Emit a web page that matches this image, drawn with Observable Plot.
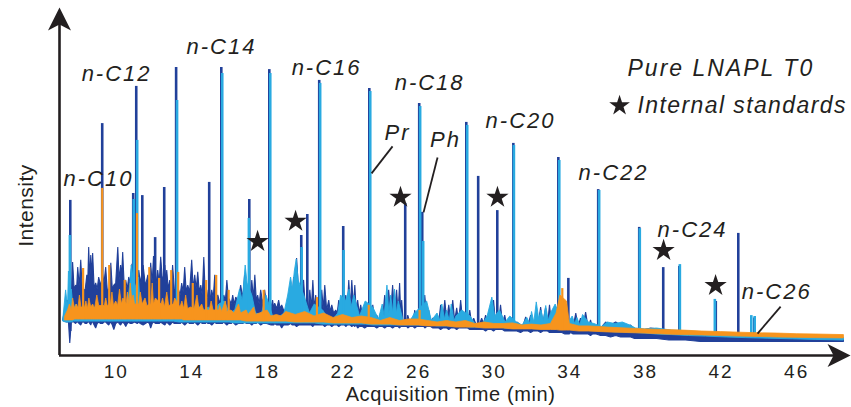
<!DOCTYPE html>
<html><head><meta charset="utf-8">
<script src="https://cdn.jsdelivr.net/npm/d3@7"></script>
<script src="https://cdn.jsdelivr.net/npm/@observablehq/plot@0.6"></script>
<style>
html,body{margin:0;padding:0;background:#fff;}
#chart svg{display:block;}
</style></head><body><div id="chart"></div>
<script>
// ---- data (time in min, intensity in arbitrary units) ----
const xTicks = [10, 14, 18, 22, 26, 30, 34, 38, 42, 46];

// noise bands: [time, low, high]
const darkBand = [
 [7.20,11.5,12.0],[7.40,11.0,18.3],[7.50,11.0,18.0],[7.57,4.0,22.0],[7.65,11.0,20.0],[7.72,11.0,31.0],
 [7.80,11.0,22.0],[7.88,10.5,23.3],[7.94,11.0,23.0],[7.99,11.0,29.3],[8.07,10.5,23.0],[8.15,10.0,31.7],
 [8.23,11.0,22.0],[8.31,11.0,21.7],[8.39,10.5,22.0],[8.47,10.5,26.7],[8.52,11.0,24.0],[8.57,11.0,36.0],
 [8.63,10.5,25.0],[8.68,10.0,33.3],[8.73,11.0,26.0],[8.78,11.0,34.0],[8.86,10.0,22.0],[8.94,9.0,24.0],
 [9.02,10.5,22.0],[9.10,11.0,26.0],[9.20,10.5,23.0],[9.30,10.5,27.0],[9.38,11.0,24.0],[9.47,11.0,29.3],
 [9.55,10.5,22.0],[9.63,10.0,21.7],[9.68,10.5,23.0],[9.74,11.0,30.7],[9.82,10.0,22.0],[9.90,8.5,23.3],
 [10.00,10.5,24.0],[10.11,11.0,36.0],[10.18,10.5,25.0],[10.26,10.0,30.0],[10.31,10.5,26.0],[10.37,11.0,34.3],
 [10.45,10.5,23.0],[10.53,9.5,25.0],[10.61,10.5,22.0],[10.69,11.0,26.0],[10.77,10.5,24.0],[10.85,10.5,30.0],
 [11.00,11.0,32.0],[11.14,10.5,24.0],[11.22,11.0,28.3],[11.30,10.5,24.0],[11.45,10.0,30.0],[11.57,10.5,23.0],
 [11.70,11.0,26.7],[11.78,10.5,22.0],[11.85,9.0,30.7],[11.93,10.5,24.0],[12.00,11.0,33.0],[12.12,10.5,23.0],
 [12.22,10.5,28.3],[12.30,10.5,24.0],[12.38,11.0,32.7],[12.48,10.5,24.0],[12.60,10.0,30.0],[12.65,10.5,24.0],
 [12.70,11.0,28.3],[12.78,10.5,22.0],[12.86,10.0,25.0],[12.94,10.5,22.0],[13.01,11.0,30.0],[13.10,10.5,22.0],
 [13.25,10.5,20.0],[13.33,10.5,21.7],[13.41,10.5,20.0],[13.49,11.0,24.0],[13.57,10.5,21.0],[13.65,10.0,29.3],
 [13.73,10.5,21.0],[13.81,11.0,23.3],[13.91,10.5,21.0],[14.02,10.5,31.7],[14.10,10.5,22.0],[14.18,11.0,26.7],
 [14.26,10.5,22.0],[14.34,10.0,27.7],[14.42,10.5,21.0],[14.50,11.0,23.3],[14.58,10.5,20.0],[14.66,10.5,32.7],
 [14.74,10.5,20.0],[14.82,11.0,21.7],[14.87,10.5,19.0],[15.00,10.5,19.0],[15.08,10.0,21.7],[15.16,10.5,19.0],
 [15.24,11.0,26.7],[15.32,10.5,19.0],[15.40,10.5,20.0],[15.48,10.5,18.0],[15.65,10.5,18.0],[15.72,11.0,20.0],
 [15.80,10.5,18.0],[15.88,10.0,25.0],[15.96,10.5,19.0],[16.03,10.5,18.3],[16.11,10.5,17.0],[16.19,11.0,20.0],
 [16.27,10.5,17.0],[16.35,10.0,19.3],[16.48,10.5,18.0],[16.61,10.5,23.3],[16.72,10.5,19.0],[16.82,11.0,26.7],
 [16.92,10.5,19.0],[17.12,10.5,19.0],[17.20,10.0,25.0],[17.28,10.5,19.0],[17.36,10.5,26.7],[17.44,10.5,18.0],
 [17.51,11.0,20.0],[17.59,10.5,17.0],[17.67,10.0,21.7],[17.78,10.5,17.0],[17.88,10.5,21.7],[17.98,10.5,16.5],
 [18.22,10.0,16.0],[18.30,10.0,18.3],[18.36,10.0,15.5],[18.41,10.5,17.3],[18.52,10.0,15.5],[18.62,10.0,18.3],
 [18.70,10.0,15.5],[18.78,9.0,16.7],[18.88,10.0,15.0],[18.99,10.0,15.0],[19.12,10.0,15.5],[19.26,10.5,22.7],
 [19.33,10.0,17.0],[19.41,10.0,26.0],[19.49,10.0,19.0],[19.57,9.5,32.3],[19.68,10.0,21.0],[19.94,10.0,25.0],
 [20.02,10.0,17.0],[20.20,10.0,16.0],[20.27,10.0,21.7],[20.35,10.0,15.5],[20.43,9.5,25.0],[20.50,10.0,15.5],
 [20.58,10.0,20.0],[20.66,10.0,15.0],[20.84,10.0,15.0],[20.90,10.0,21.7],[20.98,10.0,15.5],[21.06,9.5,23.3],
 [21.16,10.0,15.0],[21.27,10.0,18.3],[21.35,10.0,14.5],[21.43,9.5,16.7],[21.53,10.0,14.0],[21.64,10.0,15.0],
 [21.72,10.0,14.0],[21.80,9.5,18.3],[21.90,10.0,15.0],[22.10,10.0,15.0],[22.17,9.5,20.0],[22.25,10.0,15.5],
 [22.33,10.0,25.0],[22.41,10.0,16.0],[22.49,9.5,25.0],[22.57,10.0,16.0],[22.65,9.5,23.3],[22.72,10.0,15.0],
 [22.80,9.0,18.3],[22.88,9.5,14.0],[22.96,9.5,16.7],[23.06,9.5,13.0],[23.17,9.0,15.0],[23.28,9.5,12.5],
 [23.50,9.5,12.5],[23.60,9.5,16.7],[23.70,9.5,12.0],[23.81,9.0,13.3],[23.92,9.5,11.5],[24.02,9.5,14.3],
 [24.12,9.5,12.0],[24.23,9.0,20.0],[24.33,9.5,13.5],[24.44,9.5,21.7],[24.54,9.5,14.0],[24.65,9.0,23.3],
 [24.75,9.5,14.0],[24.86,9.5,21.7],[24.94,9.5,14.0],[25.02,9.0,24.0],[25.08,9.5,13.5],[25.13,9.5,18.3],
 [25.20,9.5,11.5],[25.40,9.5,11.5],[25.45,9.0,13.3],[25.55,9.5,11.0],[25.66,9.5,12.3],[25.74,9.5,11.0],
 [25.82,9.0,15.0],[25.92,9.5,11.5],[26.30,9.5,13.0],[26.35,9.0,20.0],[26.45,9.5,12.5],[26.56,9.5,15.0],
 [26.66,9.5,11.0],[26.78,9.0,12.3],[26.88,9.0,11.0],[26.99,9.0,13.3],[27.09,9.0,11.0],[27.19,8.5,16.7],
 [27.30,9.0,11.5],[27.41,9.0,18.3],[27.51,9.0,11.5],[27.62,8.5,16.7],[27.72,9.0,11.5],[27.83,9.0,18.3],
 [27.93,9.0,11.5],[28.04,8.5,15.7],[28.14,9.0,11.0],[28.25,9.0,18.3],[28.35,9.0,11.5],[28.45,9.0,11.5],
 [28.62,9.0,11.0],[28.73,8.5,15.0],[28.83,8.5,10.5],[28.94,8.5,12.3],[29.04,8.5,10.5],[29.26,8.5,10.5],
 [29.36,8.5,12.3],[29.46,8.5,10.5],[29.57,8.0,13.3],[29.67,8.5,10.5],[29.78,8.5,15.0],[29.88,8.5,11.0],
 [29.99,8.0,18.3],[30.08,8.5,11.5],[30.26,8.5,11.0],[30.36,8.5,16.7],[30.46,8.5,10.5],[30.58,8.0,13.3],
 [30.68,8.0,10.0],[30.79,8.0,11.7],[30.90,8.0,10.0],[31.12,8.0,10.0],[31.22,8.0,11.0],[31.42,7.5,10.0],
 [31.55,8.0,9.8],[31.69,8.0,12.7],[31.82,8.0,10.0],[31.95,7.5,13.3],[32.08,8.0,10.0],[32.22,8.0,12.3],
 [32.35,8.0,10.0],[32.48,7.5,16.0],[32.60,8.0,10.5],[32.74,8.0,15.7],[32.85,8.0,10.5],[32.95,7.5,16.7],
 [33.05,7.5,10.5],[33.16,7.5,14.3],[33.28,7.5,10.0],[33.50,7.5,10.0],[33.60,7.5,13.3],[33.76,7.0,12.3],
 [33.84,7.0,9.5],[34.00,7.0,9.5],[34.07,7.5,11.0],[34.20,7.0,9.5],[34.34,7.0,14.0],[34.46,7.0,9.5],
 [34.59,7.0,12.3],[34.72,7.0,9.5],[34.86,7.0,14.3],[35.00,7.0,9.0],[35.12,6.5,11.7],[35.22,7.0,9.0],
 [35.33,7.0,10.0],[35.42,7.0,8.5],[35.65,6.5,9.0],[35.92,6.5,11.0],[36.18,6.0,10.0],[36.45,6.5,11.0],
 [36.71,6.0,10.0],[36.98,6.0,9.3],[37.24,6.0,10.0],[37.45,5.5,8.3],[37.88,5.5,8.3],[38.30,5.5,9.0],
 [38.62,5.5,8.7],[39.26,5.0,8.0],[40.15,5.0,7.3],[40.94,4.5,7.0],[42.27,4.5,6.3],[44.12,4.5,6.0],
 [45.18,4.5,5.7],[46.23,4.5,5.7],[47.29,4.5,5.3],[48.50,4.5,5.3]
];
const lightBand = [
 [7.20,11.3,12.0],[7.35,11.0,21.7],[7.45,11.0,16.0],[7.50,11.0,28.0],[7.60,11.0,17.0],[7.65,11.0,22.0],
 [7.75,11.3,15.0],[7.90,11.3,17.0],[8.10,11.3,14.0],[8.30,11.3,16.0],[8.60,11.3,14.5],[8.90,11.3,16.0],
 [9.20,11.3,14.0],[9.50,11.3,15.5],[9.80,11.3,14.0],[10.10,11.3,16.0],[10.40,11.3,14.5],[10.65,11.3,18.0],
 [10.75,11.3,24.0],[10.82,11.3,30.0],[11.00,11.3,22.0],[11.20,11.3,26.0],[11.30,11.3,16.0],[11.60,11.3,15.0],
 [11.90,11.3,17.0],[12.20,11.3,14.5],[12.50,11.3,16.0],[12.80,11.3,14.5],[13.05,11.3,17.0],[13.35,11.0,14.0],
 [13.70,11.0,16.0],[14.00,11.0,14.0],[14.30,11.0,17.0],[14.60,11.0,14.5],[14.90,11.0,16.0],[15.20,11.0,14.0],
 [15.45,11.0,17.0],[15.75,11.0,18.0],[16.00,11.0,14.0],[16.30,10.7,15.0],[16.55,10.7,22.0],[16.70,10.7,18.0],
 [16.85,10.7,30.0],[16.95,10.7,24.0],[17.20,10.7,20.0],[17.40,10.7,14.0],[17.70,10.7,13.5],[17.95,10.7,20.0],
 [18.30,10.7,13.0],[18.60,10.7,12.5],[18.90,10.7,14.0],[19.10,10.7,20.0],[19.25,10.7,26.0],[19.35,10.7,22.0],
 [19.45,10.7,28.0],[19.55,10.7,32.0],[19.65,10.7,25.0],[19.95,10.7,20.0],[20.25,10.7,14.0],[20.50,10.7,17.0],
 [20.95,10.3,15.0],[21.20,10.3,12.5],[21.50,10.3,12.0],[21.75,10.3,14.0],[21.90,10.3,20.0],[22.15,10.3,18.0],
 [22.35,10.3,22.0],[22.45,10.3,16.0],[22.60,10.3,20.0],[22.90,10.3,13.0],[23.20,10.3,18.0],[23.60,10.0,16.0],
 [23.90,10.0,12.0],[24.10,10.0,17.0],[24.20,10.0,13.0],[24.35,10.0,23.3],[24.45,10.0,14.0],[24.55,10.0,20.0],
 [24.65,10.0,14.0],[24.75,10.0,22.0],[24.85,10.0,14.0],[24.95,10.0,18.0],[25.20,10.0,11.5],[25.55,10.0,11.0],
 [25.80,10.0,14.0],[26.45,10.0,18.0],[26.70,10.0,11.5],[27.00,9.7,14.0],[27.15,9.7,11.5],[27.25,9.7,17.0],
 [27.40,9.7,12.0],[27.50,9.7,15.0],[27.65,9.7,11.5],[27.75,9.7,17.0],[27.90,9.7,11.5],[28.00,9.7,13.0],
 [28.30,9.7,15.0],[28.75,9.3,13.0],[29.00,9.3,10.5],[29.40,9.3,10.5],[29.65,9.3,13.0],[29.90,9.3,19.3],
 [30.05,9.3,13.0],[30.30,9.3,15.0],[30.60,9.0,11.0],[30.85,9.0,13.0],[31.20,9.0,11.0],[31.50,9.0,10.0],
 [31.75,9.0,12.5],[31.90,9.0,10.5],[32.00,9.0,14.5],[32.12,9.0,11.0],[32.25,9.0,17.7],[32.38,9.0,12.0],
 [32.50,9.0,15.0],[32.62,9.0,11.5],[32.75,9.0,16.5],[32.88,9.0,11.5],[33.00,9.0,14.0],[33.25,8.7,17.0],
 [33.55,8.7,12.0],[33.90,8.7,10.5],[34.15,8.7,13.0],[34.28,8.5,10.5],[34.40,8.5,12.5],[34.55,8.5,10.0],
 [34.70,8.5,13.5],[35.00,8.3,11.0],[35.30,8.3,10.5],[35.70,8.0,9.5],[36.00,8.0,11.0],[36.40,7.7,10.5],
 [36.80,7.7,11.0],[37.20,7.5,10.0],[37.50,7.5,9.0],[38.00,7.3,8.7],[38.60,7.0,9.0],[39.40,6.8,8.3],
 [40.30,6.5,8.0],[41.20,6.3,7.7],[42.30,6.0,7.3],[43.30,5.8,7.0],[44.50,5.6,6.7],[45.80,5.4,6.5],
 [47.00,5.2,6.2],[48.50,5.0,6.0]
];
const orangeBand = [
 [7.30,11.7,13.0],[7.45,11.7,15.0],[7.55,11.7,17.0],[7.65,11.7,15.0],[7.72,11.7,19.0],[7.82,12.0,15.5],
 [7.92,12.0,17.0],[8.00,12.0,15.5],[8.08,12.0,20.0],[8.16,12.0,16.0],[8.35,12.0,16.0],[8.42,12.0,18.0],
 [8.50,12.0,15.5],[8.58,12.0,19.0],[8.68,12.0,16.0],[8.78,12.0,17.0],[8.88,12.0,15.5],[9.00,12.0,20.0],
 [9.10,12.0,16.5],[9.40,12.0,16.5],[9.47,12.0,19.0],[9.55,12.0,16.5],[9.72,12.0,17.0],[9.80,12.0,21.0],
 [9.88,12.0,16.5],[10.00,12.0,18.0],[10.10,12.0,16.5],[10.20,12.0,22.0],[10.30,12.0,17.0],[10.38,12.0,19.0],
 [10.55,12.0,17.0],[10.62,12.0,21.0],[10.70,12.0,17.0],[10.77,12.0,24.0],[10.85,12.0,18.0],[10.92,12.0,20.0],
 [11.00,12.0,17.0],[11.22,12.0,17.0],[11.30,12.0,21.0],[11.40,12.0,17.0],[11.55,12.0,19.0],[11.65,12.0,16.5],
 [11.85,12.0,17.0],[11.93,12.0,24.0],[12.00,12.0,17.0],[12.10,12.0,19.0],[12.40,12.0,17.0],[12.48,12.0,19.0],
 [12.58,12.0,16.0],[12.70,12.0,21.0],[12.80,12.0,16.5],[13.05,12.0,17.0],[13.12,12.0,19.0],[13.40,12.0,16.0],
 [13.50,12.0,18.0],[13.60,11.7,15.5],[13.70,11.7,20.0],[13.80,11.7,15.5],[13.95,11.7,16.0],[14.15,11.7,15.5],
 [14.30,11.7,20.0],[14.40,11.7,15.5],[14.55,11.7,17.0],[14.65,11.7,15.0],[14.95,11.7,15.0],[15.05,11.7,18.0],
 [15.15,11.7,15.0],[15.45,11.7,15.0],[15.50,11.7,16.5],[15.60,11.7,14.5],[15.80,11.7,18.0],[15.88,11.7,14.5],
 [16.10,11.7,15.0],[16.25,11.7,14.0],[16.50,11.7,17.0],[16.60,11.7,14.0],[16.90,11.3,15.0],[17.00,11.3,13.5],
 [17.30,11.3,16.0],[17.40,11.3,13.5],[17.60,11.3,14.0],[18.00,11.3,15.0],[18.20,11.3,13.0],[18.50,11.3,13.5],
 [18.75,11.3,13.0],[19.00,11.3,14.5],[19.50,11.0,13.5],[20.00,11.0,14.5],[20.50,11.0,13.0],[21.00,11.0,14.0],
 [21.50,10.7,12.5],[22.00,10.7,13.5],[22.50,10.7,12.5],[23.00,10.7,13.0],[23.50,10.3,12.5],[24.00,10.3,11.5],
 [24.50,10.3,12.5],[25.00,10.0,11.5],[25.50,10.0,12.0],[26.00,10.0,12.0],[26.50,9.7,11.5],[27.00,9.7,11.0],
 [27.50,9.7,11.5],[28.00,9.3,11.0],[28.50,9.3,11.5],[29.00,9.3,10.5],[29.50,9.0,11.0],[30.00,9.0,10.5],
 [30.50,9.0,10.5],[31.00,8.7,10.7],[31.50,8.7,10.0],[32.00,8.7,10.3],[32.50,8.5,10.0],[33.00,8.5,10.5],
 [33.30,8.5,14.0],[33.50,8.3,20.0],[33.85,8.3,18.0],[34.00,8.3,10.5],[34.50,8.0,9.7],[35.00,8.0,9.7],
 [36.00,7.7,9.3],[37.00,7.5,9.0],[38.00,7.3,8.7],[39.00,7.0,8.5],[40.00,6.8,8.3],[41.00,6.7,8.0],
 [42.00,6.5,7.8],[43.00,6.3,7.6],[44.00,6.2,7.4],[45.00,6.0,7.3],[46.00,5.9,7.1],[47.00,5.8,7.0],
 [48.50,5.7,6.8]
];

// sharp peaks: [time, base, top]
const darkPeaks = [
 [7.57,8,51.7],[9.26,11,77.3],[10.90,11,54],[11.06,11,89.7],[11.38,11,53.3],[12.06,11,39.3],[12.54,11,56],
 [13.17,11,96],[14.92,11,57.7],[15.56,11,96],[17.04,10.5,52],[18.10,10.5,95.3],[19.79,10,40],[20.11,10,47],
 [20.74,10,91.7],[22.01,10,43],[23.39,9.5,89],[25.29,9.5,50.7],[26.03,9.5,84],[26.19,9.5,47.7],[28.52,9,77.7],
 [29.15,8.5,59.7],[30.16,8.5,48.3],[31.01,8,70.7],[33.39,7.5,66],[33.92,7,25.7],[35.50,7,55.3],[37.67,5.5,42.7],
 [38.94,5.5,29.3],[39.79,5,29.7],[41.72,5,18.0],[42.91,4.5,40.7],[43.76,4.5,12.5]
];
const lightPeaks = [
 [7.55,11,40],[10.93,11.3,52],[11.11,11.3,71.7],[13.22,11.3,85],[15.61,11,94],[17.02,10.7,45.7],[18.15,10.7,94],
 [19.81,10.7,36],[20.79,10.7,90.7],[22.03,10.3,35],[23.44,10.3,88],[26.08,10,83],[26.24,10,38],[28.57,9.7,76.7],
 [31.04,9,70],[33.44,8.7,65],[35.55,8.3,55],[37.70,7.5,42.3],[39.82,6.8,30.3],[41.67,6.3,18.7],[43.60,5.8,13.3],
 [43.78,5.8,13.0]
];
const orangePeaks = [
 [8.25,12,29],[9.26,12,55.7],[9.63,12,30],[10.45,12,25],[11.10,12,47.3],[11.75,12,29.3],[12.27,12,25.7],
 [12.91,12,28.3],[13.28,12,27.7],[14.05,11.7,24],[14.76,11.7,25],[15.29,11.7,26.7],[15.95,11.7,21.7],
 [17.80,11.3,21.7],[20.62,11,19.3],[23.36,10.7,16.7],[26.05,10,15],[33.60,8.3,22.3]
];

// internal-standard markers: [time, intensity]
const stars = [[17.48,38],[19.49,44.7],[25.04,52.7],[30.17,52.7],[38.96,35],[41.71,23.3]];

// peak labels
const peakNames = ["n-C10","n-C12","n-C14","n-C16","n-C18","n-C20","n-C22","n-C24","n-C26","Pr","Ph"];
const peakLabelT = [9.06,10.02,15.57,21.13,26.58,31.39,36.31,40.49,44.94,24.88,27.42];
const peakLabelV = [59,94,103,96,90.7,78.3,60.7,42,21.3,74.3,71.7];
// leader lines: [t1, v1, t2, v2]
const leaders = [[24.62,69.7,23.51,60.7],[27.0,66,26.26,47.7],[45.15,16.3,43.93,7.3]];

const legendTitle = "Pure LNAPL T0";
const legendStar = "Internal standards";

// ---- styles ----
const DARK = "#21409a", LIGHT = "#29aae1", ORANGE = "#f7941d", INK = "#231f20";
const FONT = "'Liberation Sans', Arial, Helvetica, sans-serif";

const labels = peakNames.map((s, i) => ({s, t: peakLabelT[i], v: peakLabelV[i]}));
const arrowHead = {draw(ctx) { ctx.moveTo(0, 0); ctx.lineTo(11.5, 23); ctx.lineTo(0, 17); ctx.lineTo(-11.5, 23); ctx.closePath(); }};
const band = (d, color, sw) => Plot.areaY(d, {x: r => r[0], y1: r => r[1], y2: r => r[2], fill: color, stroke: color, strokeWidth: sw, strokeLinejoin: "miter", curve: "linear"});
const peaks = (d, color, w) => Plot.ruleX(d, {x: r => r[0], y1: r => r[1], y2: r => r[2], stroke: color, strokeWidth: w});

const chart = Plot.plot({
  width: 851, height: 407,
  marginLeft: 59, marginRight: 0, marginTop: 10, marginBottom: 52,
  style: {fontFamily: FONT, fontSize: "19px", color: INK, background: "#fff", overflow: "visible"},
  x: {domain: [7, 48.9], ticks: xTicks, tickSize: 0, tickPadding: 9, label: null, tickFormat: d => String(d)},
  y: {domain: [0, 115], axis: null},
  marks: [
    band(darkBand, DARK, 1.1),
    peaks(darkPeaks, DARK, 2.6),
    band(lightBand, LIGHT, 0.9),
    peaks(lightPeaks, LIGHT, 2.6),
    band(orangeBand, ORANGE, 0.8),
    peaks(orangePeaks, ORANGE, 2.2),
    // axes lines with arrowheads
    Plot.ruleY([0], {x1: 7, x2: 48.5, stroke: INK, strokeWidth: 2.6}),
    Plot.ruleX([7], {y1: 0, y2: 112, stroke: INK, strokeWidth: 2.6}),
    Plot.dot([{t: 7, v: 116, rot: 0}, {t: 48.85, v: 0, rot: 90}], {x: "t", y: "v", rotate: "rot", symbol: arrowHead, fill: INK, stroke: "none", r: 10}),
    // stars
    Plot.dot(stars, {x: r => r[0], y: r => r[1], symbol: "star", r: 7, fill: INK}),
    // leader lines
    Plot.link(leaders, {x1: r => r[0], y1: r => r[1], x2: r => r[2], y2: r => r[3], stroke: INK, strokeWidth: 1.8}),
    // peak labels
    Plot.text(labels, {x: "t", y: "v", text: "s", fontSize: 22, fontStyle: "italic", fill: INK, textAnchor: "middle", lineAnchor: "middle"}),
    // legend
    Plot.text([legendTitle], {x: 37.05, y: 95.7, text: d => d, fontSize: 23, fontStyle: "italic", fill: INK, textAnchor: "start", lineAnchor: "middle"}),
    Plot.dot([legendStar], {x: 36.63, y: 83.3, symbol: "star", r: 6.5, fill: INK}),
    Plot.text([legendStar], {x: 37.58, y: 83.3, text: d => d, fontSize: 23, fontStyle: "italic", fill: INK, textAnchor: "start", lineAnchor: "middle"}),
    // axis titles
    Plot.text(["Acquisition Time (min)"], {x: 27.69, y: -13, text: d => d, fontSize: 20, fill: INK, textAnchor: "middle", lineAnchor: "middle"}),
    Plot.text(["Intensity"], {x: 5.25, y: 50, text: d => d, fontSize: 21, fill: INK, rotate: -90, textAnchor: "middle", lineAnchor: "middle"})
  ]
});
document.getElementById("chart").appendChild(chart);

// letter spacing to match the wide lettering of the original
d3.select(chart).selectAll("text").each(function() {
  const s = this.textContent;
  let ls = "2px";
  if (s === "Intensity") ls = "0.5px";
  else if (s === "Acquisition Time (min)") ls = "0.6px";
  else if (s === legendStar) ls = "1.4px";
  d3.select(this).style("letter-spacing", ls);
});
</script></body></html>
